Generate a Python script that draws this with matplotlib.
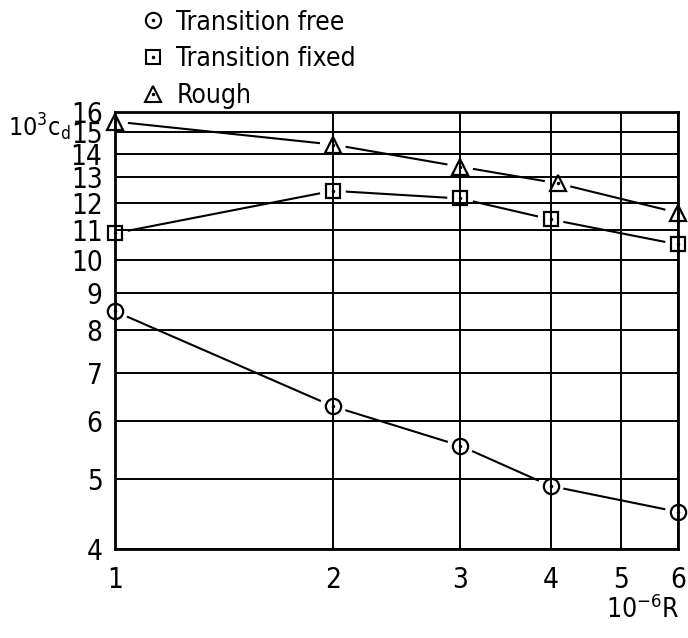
import numpy as np
import matplotlib.pyplot as plt
from matplotlib.lines import Line2D
from matplotlib.ticker import FixedLocator, NullLocator

plt.rcParams['font.family'] = ['DejaVu Sans']
plt.rcParams['font.stretch'] = 'condensed'
plt.rcParams['mathtext.fontset'] = 'custom'
plt.rcParams['mathtext.rm'] = 'DejaVu Sans:stretch=condensed'

# 10^-6 R values and 10^3 cd readings for each surface condition
r_free = [1, 2, 3, 4, 6]
cd_free = [8.5, 6.29, 5.55, 4.885, 4.50]

r_fixed = [1, 2, 3, 4, 6]
cd_fixed = [10.89, 12.46, 12.16, 11.38, 10.51]

r_rough = [1, 2, 3, 4.09, 6]
cd_rough = [15.52, 14.43, 13.45, 12.76, 11.62]

xticks = [1, 2, 3, 4, 5, 6]
yticks = [4, 5, 6, 7, 8, 9, 10, 11, 12, 13, 14, 15, 16]

fig = plt.figure(figsize=(6.88, 6.38), dpi=100)
ax = fig.add_axes([0.1672, 0.1395, 0.8183, 0.685])
ax.set_xscale('log')
ax.set_yscale('log')
ax.set_xlim(1, 6)
ax.set_ylim(4, 16)

ax.xaxis.set_major_locator(FixedLocator(xticks))
ax.xaxis.set_minor_locator(NullLocator())
ax.yaxis.set_major_locator(FixedLocator(yticks))
ax.yaxis.set_minor_locator(NullLocator())
ax.set_xticklabels([str(t) for t in xticks])
ax.set_yticklabels([str(t) for t in yticks])
ax.tick_params(length=0, labelsize=20)
ax.tick_params(axis='y', pad=9)
ax.tick_params(axis='x', pad=12)
ax.grid(True, color='black', lw=1.4)
for s in ax.spines.values():
    s.set_linewidth(2)


def gapped_line(xs, ys, gap=14):
    # line between markers, stopped short of each marker
    pts = ax.transData.transform(np.column_stack([xs, ys]))
    inv = ax.transData.inverted()
    for p0, p1 in zip(pts[:-1], pts[1:]):
        d = p1 - p0
        L = np.hypot(*d)
        u = d / L
        a = inv.transform(p0 + u * gap)
        b = inv.transform(p1 - u * gap)
        ax.plot([a[0], b[0]], [a[1], b[1]], color='black', lw=1.5, clip_on=False)


handles = []
for xs, ys, m, ms in [(r_free, cd_free, 'o', 11),
                      (r_fixed, cd_fixed, 's', 10.5),
                      (r_rough, cd_rough, '^', 11)]:
    gapped_line(xs, ys)
    ax.plot(xs, ys, ls='none', marker=m, ms=ms, mfc='none', mec='black', mew=1.6,
            clip_on=False)
    ax.plot(xs, ys, ls='none', marker='.', ms=3, color='black', clip_on=False)
    h1 = Line2D([], [], ls='none', marker=m, ms=ms, mfc='none', mec='black', mew=1.5)
    h2 = Line2D([], [], ls='none', marker='.', ms=3, color='black')
    handles.append((h1, h2))

fig.legend(handles, ['Transition free', 'Transition fixed', 'Rough'],
           loc='upper left', bbox_to_anchor=(0.17, 1.022), frameon=False,
           fontsize=19, handlelength=0.9, handletextpad=0.45, labelspacing=0.4)

fig.text(0.012, 0.80, r'$10^3$c$_\mathrm{d}$', fontsize=18, ha='left', va='center')
fig.text(0.988, 0.045, r'$10^{-6}$R', fontsize=19, ha='right', va='center')

fig.savefig('out.png', dpi=100)
